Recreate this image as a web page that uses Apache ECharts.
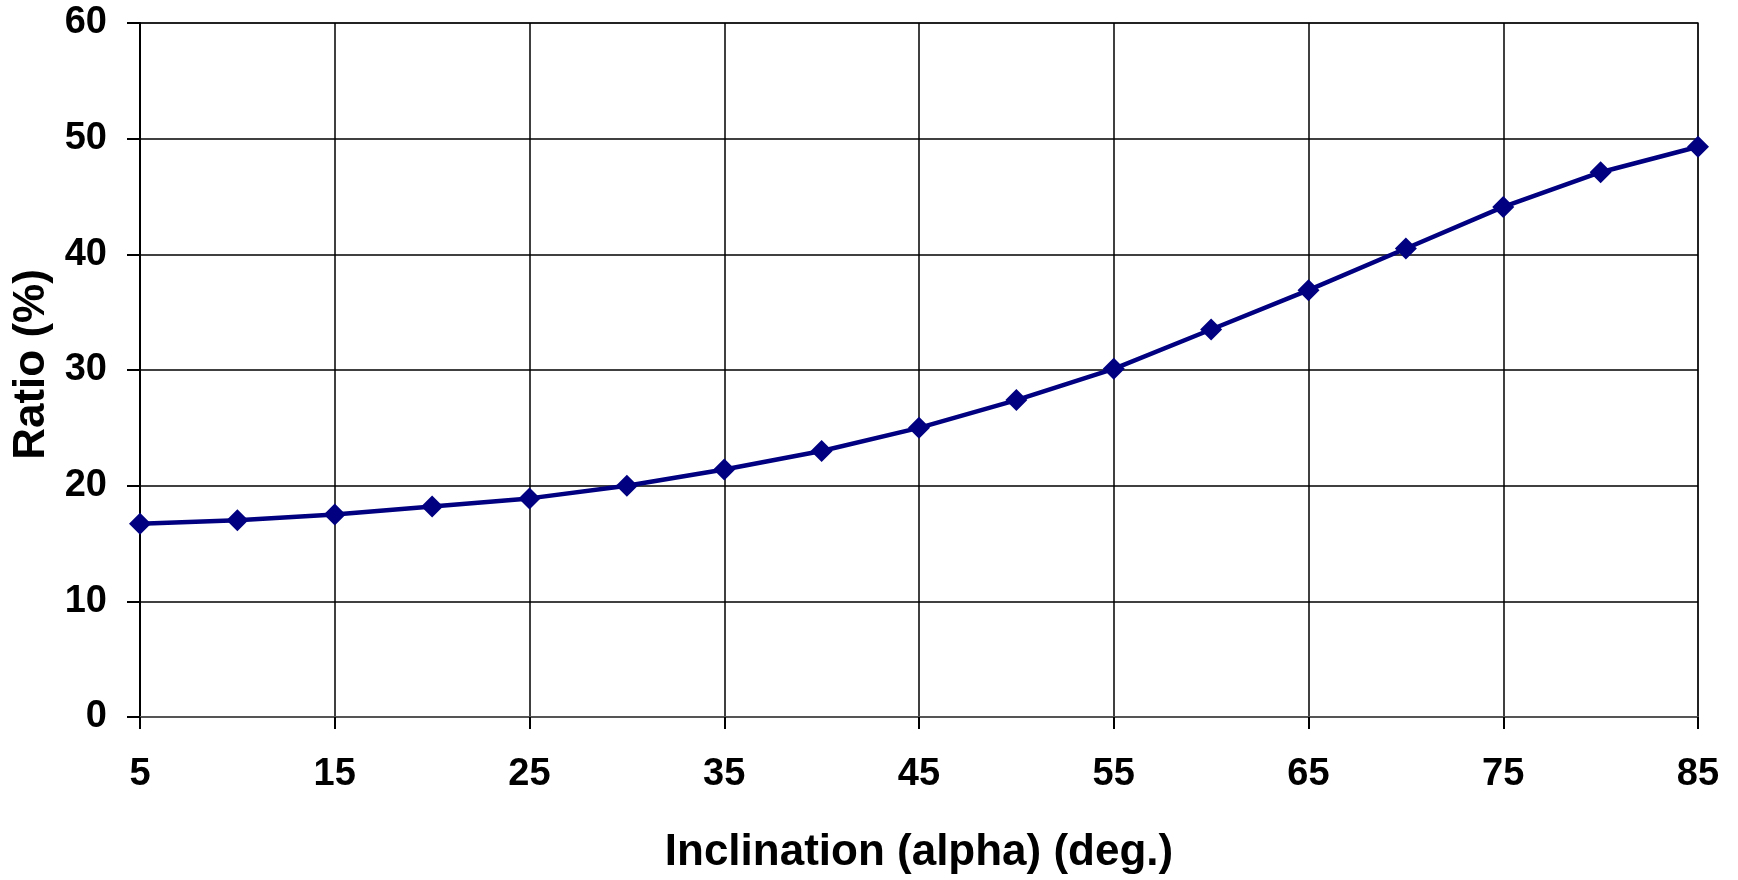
<!DOCTYPE html>
<html>
<head>
<meta charset="utf-8">
<script src="https://cdn.jsdelivr.net/npm/echarts@6/dist/echarts.min.js"></script>
<style>
  html, body { margin: 0; padding: 0; background: #fff; }
  #chart { width: 1738px; height: 880px; }
</style>
</head>
<body>
<div id="chart"></div>
<script>
// Data
const inclination = ['5','10','15','20','25','30','35','40','45','50','55','60','65','70','75','80','85'];
const ratio = [16.7, 17.0, 17.5, 18.2, 18.9, 20.0, 21.4, 23.0, 25.0, 27.4, 30.1, 33.5, 36.9, 40.5, 44.1, 47.1, 49.3];
const yTicks = { min: 0, max: 60, step: 10 };
const xTitle = 'Inclination (alpha) (deg.)';
const yTitle = 'Ratio (%)';

const FONT = '"Liberation Sans", Arial, sans-serif';
const chart = echarts.init(document.getElementById('chart'), null, { renderer: 'canvas' });
chart.setOption({
  backgroundColor: '#ffffff',
  animation: false,
  grid: {
    left: 140, right: 40, top: 23, bottom: 158,
    show: true, borderColor: '#8c8c8c', borderWidth: 2, backgroundColor: 'transparent'
  },
  xAxis: {
    type: 'category',
    data: inclination,
    boundaryGap: false,
    name: xTitle,
    nameLocation: 'middle',
    nameGap: 114,
    nameTextStyle: { fontFamily: FONT, fontWeight: 'bold', fontSize: 44, color: '#000' },
    axisLine: { show: true, lineStyle: { color: '#555', width: 2 } },
    axisTick: { show: true, interval: 1, length: 12, lineStyle: { color: '#000', width: 2 } },
    axisLabel: { interval: 1, margin: 39, fontFamily: FONT, fontWeight: 'bold', fontSize: 38, color: '#000' },
    splitLine: { show: true, interval: 1, lineStyle: { color: '#000', width: 1.5 } }
  },
  yAxis: {
    type: 'value',
    min: yTicks.min, max: yTicks.max, interval: yTicks.step,
    name: yTitle,
    nameLocation: 'middle',
    nameGap: 80,
    nameTextStyle: { fontFamily: FONT, fontWeight: 'bold', fontSize: 44, color: '#000', padding: [0, 0, 0, 11] },
    axisLine: { show: true, lineStyle: { color: '#000', width: 2 } },
    axisTick: { show: true, length: 13, lineStyle: { color: '#000', width: 2 } },
    axisLabel: { margin: 33, fontFamily: FONT, fontWeight: 'bold', fontSize: 38, color: '#000' },
    splitLine: { show: true, lineStyle: { color: '#000', width: 1.5 } }
  },
  series: [{
    type: 'line',
    data: ratio,
    symbol: 'diamond',
    symbolSize: 22,
    showAllSymbol: true,
    lineStyle: { color: '#000080', width: 4.5 },
    itemStyle: { color: '#000080', borderWidth: 0 }
  }]
});
</script>
</body>
</html>
